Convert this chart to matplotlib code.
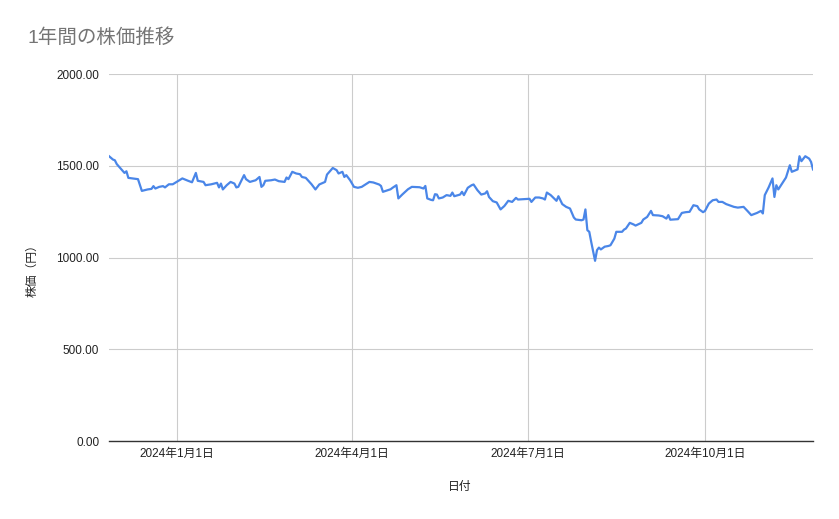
import pandas as pd
import matplotlib
matplotlib.use('Agg')
import matplotlib.pyplot as plt
from matplotlib.ticker import FuncFormatter, MultipleLocator

plt.rcParams['font.family'] = ['Liberation Sans', 'Noto Sans CJK JP', 'DejaVu Sans']

# ── data ─────────────────────────────────────────────────────────────────────
dates = [
    '2023-11-27', '2023-11-29', '2023-11-30', '2023-12-01', '2023-12-03', '2023-12-05',
    '2023-12-06', '2023-12-07', '2023-12-09', '2023-12-12', '2023-12-14', '2023-12-17',
    '2023-12-19', '2023-12-20', '2023-12-21', '2023-12-23', '2023-12-25', '2023-12-26',
    '2023-12-28', '2023-12-30', '2024-01-01', '2024-01-04', '2024-01-07', '2024-01-09',
    '2024-01-11', '2024-01-12', '2024-01-15', '2024-01-16', '2024-01-19', '2024-01-22',
    '2024-01-23', '2024-01-24', '2024-01-25', '2024-01-27', '2024-01-29', '2024-01-31',
    '2024-02-01', '2024-02-02', '2024-02-05', '2024-02-06', '2024-02-08', '2024-02-11',
    '2024-02-13', '2024-02-14', '2024-02-15', '2024-02-16', '2024-02-19', '2024-02-21',
    '2024-02-23', '2024-02-26', '2024-02-27', '2024-02-28', '2024-03-01', '2024-03-03',
    '2024-03-05', '2024-03-06', '2024-03-08', '2024-03-11', '2024-03-13', '2024-03-15',
    '2024-03-18', '2024-03-19', '2024-03-22', '2024-03-24', '2024-03-25', '2024-03-27',
    '2024-03-28', '2024-03-29', '2024-03-31', '2024-04-02', '2024-04-04', '2024-04-06',
    '2024-04-10', '2024-04-12', '2024-04-15', '2024-04-16', '2024-04-17', '2024-04-19',
    '2024-04-21', '2024-04-22', '2024-04-24', '2024-04-25', '2024-04-27', '2024-04-30',
    '2024-05-02', '2024-05-06', '2024-05-08', '2024-05-09', '2024-05-10', '2024-05-12',
    '2024-05-13', '2024-05-14', '2024-05-15', '2024-05-16', '2024-05-18', '2024-05-20',
    '2024-05-22', '2024-05-23', '2024-05-24', '2024-05-27', '2024-05-28', '2024-05-29',
    '2024-05-31', '2024-06-02', '2024-06-03', '2024-06-05', '2024-06-07', '2024-06-09',
    '2024-06-10', '2024-06-11', '2024-06-13', '2024-06-15', '2024-06-17', '2024-06-19',
    '2024-06-21', '2024-06-23', '2024-06-25', '2024-06-26', '2024-06-29', '2024-07-02',
    '2024-07-03', '2024-07-05', '2024-07-07', '2024-07-09', '2024-07-10', '2024-07-11',
    '2024-07-13', '2024-07-16', '2024-07-17', '2024-07-19', '2024-07-21', '2024-07-23',
    '2024-07-25', '2024-07-26', '2024-07-29', '2024-07-30', '2024-07-31', '2024-08-01',
    '2024-08-02', '2024-08-03', '2024-08-05', '2024-08-06', '2024-08-07', '2024-08-08',
    '2024-08-10', '2024-08-12', '2024-08-13', '2024-08-15', '2024-08-16', '2024-08-19',
    '2024-08-20', '2024-08-21', '2024-08-23', '2024-08-25', '2024-08-26', '2024-08-29',
    '2024-08-30', '2024-09-01', '2024-09-03', '2024-09-04', '2024-09-07', '2024-09-09',
    '2024-09-11', '2024-09-12', '2024-09-13', '2024-09-17', '2024-09-19', '2024-09-21',
    '2024-09-23', '2024-09-25', '2024-09-27', '2024-09-28', '2024-09-30', '2024-10-01',
    '2024-10-03', '2024-10-05', '2024-10-07', '2024-10-08', '2024-10-10', '2024-10-12',
    '2024-10-16', '2024-10-18', '2024-10-21', '2024-10-23', '2024-10-25', '2024-10-28',
    '2024-10-30', '2024-10-31', '2024-11-01', '2024-11-03', '2024-11-05', '2024-11-06',
    '2024-11-07', '2024-11-08', '2024-11-10', '2024-11-12', '2024-11-14', '2024-11-15',
    '2024-11-18', '2024-11-19', '2024-11-20', '2024-11-22', '2024-11-24', '2024-11-25',
    '2024-11-26',
]

prices = [
    1553, 1535, 1531, 1510, 1486, 1462,
    1471, 1435, 1432, 1428, 1364, 1372,
    1375, 1390, 1377, 1386, 1390, 1383,
    1400, 1400, 1413, 1432, 1419, 1411,
    1462, 1419, 1413, 1395, 1400, 1408,
    1383, 1404, 1372, 1395, 1413, 1404,
    1383, 1386, 1450, 1428, 1413, 1422,
    1440, 1386, 1395, 1419, 1422, 1426,
    1417, 1413, 1437, 1428, 1468, 1459,
    1455, 1440, 1435, 1400, 1372, 1399,
    1413, 1453, 1489, 1477, 1459, 1468,
    1440, 1450, 1422, 1386, 1381, 1386,
    1413, 1410, 1399, 1391, 1359, 1366,
    1373, 1381, 1395, 1323, 1344, 1373,
    1386, 1384, 1377, 1391, 1323, 1315,
    1313, 1346, 1344, 1323, 1328, 1341,
    1337, 1355, 1335, 1344, 1359, 1341,
    1381, 1395, 1399, 1368, 1344, 1350,
    1362, 1331, 1308, 1301, 1263, 1282,
    1310, 1304, 1326, 1317, 1319, 1321,
    1304, 1328, 1328, 1323, 1317, 1355,
    1341, 1310, 1335, 1292, 1277, 1268,
    1219, 1208, 1204, 1208, 1263, 1150,
    1141, 1086, 983, 1041, 1055, 1045,
    1060, 1064, 1068, 1104, 1141, 1141,
    1153, 1159, 1190, 1181, 1175, 1190,
    1208, 1222, 1255, 1232, 1230, 1226,
    1213, 1232, 1207, 1210, 1244, 1248,
    1250, 1286, 1281, 1263, 1248, 1255,
    1295, 1313, 1317, 1304, 1304, 1292,
    1277, 1273, 1277, 1255, 1232, 1244,
    1255, 1241, 1341, 1383, 1432, 1331,
    1395, 1372, 1404, 1437, 1504, 1468,
    1481, 1553, 1526, 1553, 1540, 1522,
    1481,
]

tick_dates = ['2024-01-01', '2024-04-01', '2024-07-01', '2024-10-01']

TITLE  = '1年間の株価推移'
XLABEL = '日付'
YLABEL = '株価（円）'

# ── plot ─────────────────────────────────────────────────────────────────────
x = pd.to_datetime(dates)

fig = plt.figure(figsize=(8.39, 5.19), dpi=100, facecolor='white')
ax = fig.add_axes([0.130, 0.150, 0.839, 0.707])

ax.plot(x, prices, color='#4a86e8', linewidth=1.6, solid_joinstyle='round')

ax.set_xlim(x.min(), x.max())
ax.set_ylim(0, 2000)
ax.yaxis.set_major_locator(MultipleLocator(500))
ax.yaxis.set_major_formatter(FuncFormatter(lambda v, p: f'{v:.2f}'))

ticks = pd.to_datetime(tick_dates)
ax.set_xticks(ticks)
ax.set_xticklabels([f'{d.year}年{d.month}月{d.day}日' for d in ticks])

ax.grid(True, color='#cccccc', linewidth=0.8)
ax.set_axisbelow(True)
for side in ['left', 'right', 'top']:
    ax.spines[side].set_visible(False)
ax.spines['bottom'].set_color('#333333')
ax.spines['bottom'].set_linewidth(1.0)
ax.spines['bottom'].set_zorder(3)

ax.tick_params(axis='both', length=0, labelsize=8.5, colors='#222222')
ax.tick_params(axis='y', pad=7)
ax.tick_params(axis='x', pad=5)

fig.text(0.033, 0.927, TITLE, fontsize=14, color='#757575', va='center', ha='left')
fig.text(0.548, 0.062, XLABEL, fontsize=8.5, color='#222222', ha='center', va='center')
fig.text(0.039, 0.484, YLABEL, fontsize=8.5, color='#222222', ha='center', va='center',
         rotation=90)

fig.savefig('out.png', dpi=100, facecolor='white')
